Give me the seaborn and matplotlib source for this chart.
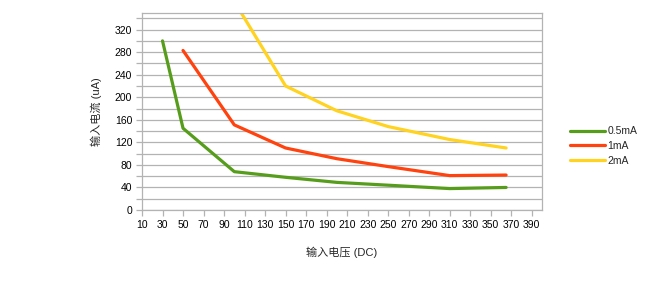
import matplotlib
matplotlib.use("Agg")
import matplotlib.pyplot as plt
import seaborn as sns
import pandas as pd
from matplotlib.ticker import MultipleLocator

# Data
v_05 = [30, 50, 100, 150, 200, 250, 310, 365]
i_05 = [300, 145, 68, 58, 49, 44, 38, 40]
v_1 = [50, 100, 150, 200, 250, 310, 365]
i_1 = [283, 151, 110, 91, 77, 61, 62]
v_2 = [100, 150, 200, 250, 310, 365]
i_2 = [370, 220, 176, 148, 125, 110]
series_names = ["0.5mA", "1mA", "2mA"]
colors = ["#579d1c", "#ff420e", "#ffd320"]

df = pd.concat([
    pd.DataFrame({"V": v_05, "I": i_05, "s": series_names[0]}),
    pd.DataFrame({"V": v_1, "I": i_1, "s": series_names[1]}),
    pd.DataFrame({"V": v_2, "I": i_2, "s": series_names[2]}),
], ignore_index=True)

sns.set_theme(style="white")
plt.rcParams["font.family"] = ["Liberation Sans", "Noto Sans CJK SC", "DejaVu Sans"]

fig = plt.figure(figsize=(6.5, 2.95), dpi=100)
ax = fig.add_axes([142 / 650, 1 - 210 / 295, 400 / 650, (210 - 12.7) / 295])

sns.lineplot(data=df, x="V", y="I", hue="s", palette=colors, ax=ax,
             linewidth=2.3, sort=False, legend=True)

ax.set_xlim(10, 400)
ax.set_ylim(0, 350)
ax.yaxis.set_major_locator(MultipleLocator(40))
ax.yaxis.set_minor_locator(MultipleLocator(20))
ax.set_xticks(list(range(10, 400, 20)))
ax.grid(True, which="both", axis="y", color="#b3b3b3", linewidth=0.9)
ax.set_axisbelow(True)
for sp in ax.spines.values():
    sp.set_color("#b3b3b3")
    sp.set_linewidth(0.9)
ax.tick_params(axis="both", which="both", direction="out", color="#b3b3b3",
               labelsize=7.5, labelcolor="#000000", length=4, width=0.9)
ax.tick_params(axis="both", which="major", pad=3)
ax.tick_params(bottom=True, left=True)
ax.tick_params(axis="y", which="minor", left=True)

ax.set_xlabel("输入电压 (DC)", fontsize=8, labelpad=12)
ax.set_ylabel("输入电流 (uA)", fontsize=8, labelpad=9)

leg = ax.legend(loc="center left", bbox_to_anchor=(566 / 650, 1 - 146 / 295),
                bbox_transform=fig.transFigure, frameon=False, fontsize=7.5,
                handlelength=3.3, handletextpad=0.3, labelspacing=0.45,
                borderaxespad=0, title=None)
for line in leg.get_lines():
    line.set_linewidth(2.3)

fig.savefig("out.png", dpi=100)
